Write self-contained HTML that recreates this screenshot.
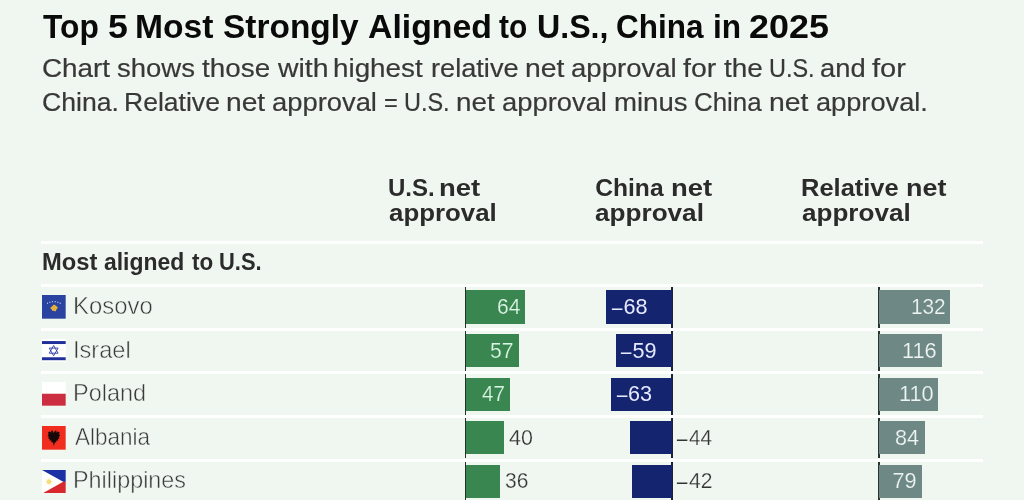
<!DOCTYPE html>
<html lang="en">
<head>
<meta charset="utf-8">
<title>Top 5 Most Strongly Aligned to U.S., China in 2025</title>
<style>
html,body{margin:0;padding:0;}
body{width:1024px;height:500px;overflow:hidden;background:#f0f7f0;font-family:"Liberation Sans",Arial,sans-serif;color:#333;position:relative;}
.ln{position:absolute;left:0;width:1024px;margin:0;white-space:nowrap;}
.ln span{position:absolute;top:0;white-space:nowrap;transform-origin:0 0;}
.t{font-size:33.6px;line-height:40px;height:40px;font-weight:bold;color:#0a0a0a;}
.s{font-size:26.7px;line-height:34px;height:34px;color:#383838;-webkit-text-stroke:0.2px #383838;}
.h{font-size:24.6px;line-height:26px;height:26px;font-weight:bold;color:#2b2b2b;}
.gp{font-size:23px;line-height:26px;height:26px;font-weight:bold;color:#2b2b2b;}
.nm{font-size:23.6px;line-height:30px;height:30px;color:#3a3a3a;-webkit-text-stroke:0.5px #f0f7f0;}
.v{font-size:21.6px;line-height:30px;height:30px;}
.hl{position:absolute;left:41px;width:942px;height:3px;background:#fff;}
.flag{position:absolute;left:42px;width:23.7px;height:23.7px;}
.ax{position:absolute;width:1.9px;height:40.6px;background:#26312e;}
.bar{position:absolute;height:33.2px;}
.vb{-webkit-text-stroke:0.25px #f0f7f0;}
.vg{-webkit-text-stroke:0.2px #3a8650;}
.vr{-webkit-text-stroke:0.2px #6e8985;}
.g{background:#3a8650;}
.n{background:#14246f;}
.r{background:#6e8985;}
.w{color:#ffffff;}
.vg{color:#dcf6e5;}
.vn{color:#e6e9ff;}
.vr{color:#eff5f3;}
.d{color:#333333;}
</style>
</head>
<body>
<h1 class="ln t" style="top:7.3px"><span style="left:42.63px;transform:scaleX(0.945)">Top</span> <span style="left:108.04px;transform:scaleX(1.0627)">5</span> <span style="left:134.95px;transform:scaleX(1.0007)">Most</span> <span style="left:223.25px;transform:scaleX(0.9963)">Strongly</span> <span style="left:367.74px;transform:scaleX(1.0063)">Aligned</span> <span style="left:499.05px;transform:scaleX(0.8917)">to</span> <span style="left:536.84px;transform:scaleX(0.9574)">U.S.,</span> <span style="left:616.09px;transform:scaleX(0.9375)">China</span> <span style="left:713.38px;transform:scaleX(0.9412)">in</span> <span style="left:748.66px;transform:scaleX(1.069)">2025</span></h1>
<p class="ln s" style="top:51.2px"><span style="left:41.7px;transform:scaleX(1.0431)">Chart</span> <span style="left:116.73px;transform:scaleX(1.0304)">shows</span> <span style="left:201.98px;transform:scaleX(1.0433)">those</span> <span style="left:277.5px;transform:scaleX(1.0656)">with</span> <span style="left:333.18px;transform:scaleX(1.0417)">highest</span> <span style="left:430.72px;transform:scaleX(1.0181)">relative</span> <span style="left:525.14px;transform:scaleX(1.0638)">net</span> <span style="left:571.21px;transform:scaleX(1.0327)">approval</span> <span style="left:683.22px;transform:scaleX(1.0661)">for</span> <span style="left:724.23px;transform:scaleX(1.0493)">the</span> <span style="left:769.49px;transform:scaleX(0.8789)">U.S.</span> <span style="left:819.97px;transform:scaleX(1.0241)">and</span> <span style="left:871.95px;transform:scaleX(1.0909)">for</span></p>
<p class="ln s" style="top:84.6px"><span style="left:41.75px;transform:scaleX(0.9966)">China.</span> <span style="left:124.01px;transform:scaleX(0.9946)">Relative</span> <span style="left:225.65px;transform:scaleX(1.0567)">net</span> <span style="left:272.47px;transform:scaleX(1.0252)">approval</span> <span style="left:384.39px;transform:scaleX(0.8846)">=</span> <span style="left:404.49px;transform:scaleX(0.8789)">U.S.</span> <span style="left:456.18px;transform:scaleX(1.0426)">net</span> <span style="left:502.47px;transform:scaleX(1.0252)">approval</span> <span style="left:613.69px;transform:scaleX(1.0328)">minus</span> <span style="left:694.29px;transform:scaleX(0.9708)">China</span> <span style="left:769.39px;transform:scaleX(1.0638)">net</span> <span style="left:815.73px;transform:scaleX(1.0189)">approval.</span></p>
<div class="ln h" style="top:175.0px"><span style="left:387.94px;transform:scaleX(0.9765)">U.S.</span> <span style="left:439.3px;transform:scaleX(1.1151)">net</span></div>
<div class="ln h" style="top:200.2px"><span style="left:388.51px;transform:scaleX(1.051)">approval</span></div>
<div class="ln h" style="top:175.0px"><span style="left:595.25px;transform:scaleX(1.0)">China</span> <span style="left:670.55px;transform:scaleX(1.1151)">net</span></div>
<div class="ln h" style="top:200.2px"><span style="left:595.45px;transform:scaleX(1.0625)">approval</span></div>
<div class="ln h" style="top:175.0px"><span style="left:801.19px;transform:scaleX(1.0354)">Relative</span> <span style="left:906.09px;transform:scaleX(1.0935)">net</span></div>
<div class="ln h" style="top:200.2px"><span style="left:801.71px;transform:scaleX(1.06)">approval</span></div>
<div class="hl" style="top:240.5px"></div>
<div class="ln gp" style="top:248.6px"><span style="left:41.75px;transform:scaleX(1.0327)">Most</span> <span style="left:103.75px;transform:scaleX(0.9968)">aligned</span> <span style="left:191.76px;transform:scaleX(0.9756)">to</span> <span style="left:219.07px;transform:scaleX(0.9518)">U.S.</span></div>
<div class="hl" style="top:284.1px"></div>
<div class="hl" style="top:327.7px"></div>
<div class="hl" style="top:371.3px"></div>
<div class="hl" style="top:414.9px"></div>
<div class="hl" style="top:458.5px"></div>
<!-- Kosovo -->
<svg class="flag" style="top:295.2px" viewBox="0 0 24 24"><rect width="24" height="24" fill="#2a43a0"/><path d="M12 9.500l1.500.8 2.700 2.400-1.200 1.500-1.300 2.500-1.900-.8-1.200.4-.8-1.700-1.600-1.500 1.900-1.500z" fill="#e3b23c"/><g fill="#d5dcf0"><circle cx="5.600" cy="8.300" r=".6"/><circle cx="8" cy="7.300" r=".6"/><circle cx="10.600" cy="6.800" r=".6"/><circle cx="13.400" cy="6.800" r=".6"/><circle cx="16" cy="7.300" r=".6"/><circle cx="18.400" cy="8.300" r=".6"/></g></svg>
<div class="ln nm" style="top:291.0px"><span style="left:73.17px;transform:scaleX(1.0139)">Kosovo</span></div>
<div class="ax" style="left:464.6px;top:287.1px;background:#1f3327"></div>
<div class="ax" style="left:671.4px;top:287.1px;background:#1d2238"></div>
<div class="ax" style="left:877.9px;top:287.1px;background:#2a3532"></div>
<div class="bar g" style="left:466.4px;top:290.4px;width:59px"></div>
<div class="bar n" style="left:606px;top:290.4px;width:66px"></div>
<div class="bar r" style="left:879.4px;top:290.4px;width:70.6px"></div>
<div class="ln v w vg" style="top:292.0px"><span style="left:497.02px;transform:scaleX(0.9778)">64</span></div>
<div class="ln v w vn" style="top:292.0px"><span style="left:612.3px;transform:scaleX(0.85);top:0.9px;-webkit-text-stroke:0.2px currentColor">–</span><span style="left:623.4px;transform:scaleX(1.0)">68</span></div>
<div class="ln v w vr" style="top:292.0px"><span style="left:911.32px;transform:scaleX(0.9624)">132</span></div>
<!-- Israel -->
<svg class="flag" style="top:338.8px" viewBox="0 0 24 24"><rect width="24" height="24" fill="#fff"/><rect y="2.1" width="24" height="3" fill="#1f2f9a"/><rect y="18.5" width="24" height="3" fill="#1f2f9a"/><path d="M11.8 6.6l4.5 7.8H7.3zM11.8 17l-4.5-7.8h9z" fill="none" stroke="#2b3ba5" stroke-width=".9"/></svg>
<div class="ln nm" style="top:334.6px"><span style="left:72.95px;transform:scaleX(1.0009)">Israel</span></div>
<div class="ax" style="left:464.6px;top:330.7px;background:#1f3327"></div>
<div class="ax" style="left:671.4px;top:330.7px;background:#1d2238"></div>
<div class="ax" style="left:877.9px;top:330.7px;background:#2a3532"></div>
<div class="bar g" style="left:466.4px;top:334.0px;width:52.2px"></div>
<div class="bar n" style="left:616px;top:334.0px;width:56px"></div>
<div class="bar r" style="left:879.4px;top:334.0px;width:62.2px"></div>
<div class="ln v w vg" style="top:335.6px"><span style="left:490.42px;transform:scaleX(0.9818)">57</span></div>
<div class="ln v w vn" style="top:335.6px"><span style="left:621.3px;transform:scaleX(0.85);top:1.4px;-webkit-text-stroke:0.2px currentColor">–</span><span style="left:632.4px;transform:scaleX(1.0)">59</span></div>
<div class="ln v w vr" style="top:335.6px"><span style="left:902.24px;transform:scaleX(1.0079)">116</span></div>
<!-- Poland -->
<svg class="flag" style="top:382.4px" viewBox="0 0 24 24"><rect width="24" height="12" fill="#fff"/><rect y="11.9" width="24" height="12.1" fill="#cd2d41"/></svg>
<div class="ln nm" style="top:378.2px"><span style="left:73.41px;transform:scaleX(0.9943)">Poland</span></div>
<div class="ax" style="left:464.6px;top:374.3px;background:#1f3327"></div>
<div class="ax" style="left:671.4px;top:374.3px;background:#1d2238"></div>
<div class="ax" style="left:877.9px;top:374.3px;background:#2a3532"></div>
<div class="bar g" style="left:466.4px;top:377.6px;width:43.6px"></div>
<div class="bar n" style="left:611px;top:377.6px;width:61px"></div>
<div class="bar r" style="left:879.4px;top:377.6px;width:58.6px"></div>
<div class="ln v w vg" style="top:379.2px"><span style="left:481.92px;transform:scaleX(0.9556)">47</span></div>
<div class="ln v w vn" style="top:379.2px"><span style="left:616.9px;transform:scaleX(0.85);top:0.4px;-webkit-text-stroke:0.2px currentColor">–</span><span style="left:628.0px;transform:scaleX(1.0)">63</span></div>
<div class="ln v w vr" style="top:379.2px"><span style="left:898.84px;transform:scaleX(1.0079)">110</span></div>
<!-- Albania -->
<svg class="flag" style="top:426.0px" viewBox="0 0 24 24"><rect width="24" height="24" fill="#f02d1e"/><path transform="translate(0 -.9) scale(1 1.12)" d="M12 7.2l-1.200-2-1.200-.4-.4 1.200.8 1-2.500-1.200L6 7l.8 1.200-1.200 1.300 1.400 1-.8 1.500 1.800.4-.6 1.600h2l.3 1.800 1.300-.4 1 3.400 1-3.400 1.300.4.3-1.800h2l-.6-1.600 1.800-.4-.8-1.500 1.400-1-1.200-1.300L18 7l-1.500-1.200L14 7l.8-1-.4-1.200-1.200.4z" fill="#160808"/></svg>
<div class="ln nm" style="top:421.8px"><span style="left:75.0px;transform:scaleX(0.9524)">Albania</span></div>
<div class="ax" style="left:464.6px;top:417.9px;background:#1f3327"></div>
<div class="ax" style="left:671.4px;top:417.9px;background:#1d2238"></div>
<div class="ax" style="left:877.9px;top:417.9px;background:#2a3532"></div>
<div class="bar g" style="left:466.4px;top:421.2px;width:37.2px"></div>
<div class="bar n" style="left:629.6px;top:421.2px;width:42.4px"></div>
<div class="bar r" style="left:879.4px;top:421.2px;width:45.6px"></div>
<div class="ln v d vb" style="top:422.8px"><span style="left:508.5px;transform:scaleX(0.9934)">40</span></div>
<div class="ln v d vb" style="top:422.8px"><span style="left:677.3px;transform:scaleX(0.85);top:1.4px;-webkit-text-stroke:0.2px currentColor">–</span><span style="left:688.92px;transform:scaleX(0.9565)">44</span></div>
<div class="ln v w vr" style="top:422.8px"><span style="left:895.0px;transform:scaleX(0.9956)">84</span></div>
<!-- Philippines -->
<svg class="flag" style="top:469.6px" viewBox="0 0 24 24"><rect width="24" height="12" fill="#1a30a4"/><rect y="12" width="24" height="12" fill="#d7282d"/><path d="M0 0l21.500 12L0 24z" fill="#fff"/><circle cx="7.1" cy="11.800" r="2.200" fill="#f4d650"/><g stroke="#f6e08a" stroke-width=".6"><path d="M7.1 8v7.600M3.300 11.800h7.600M4.400 9.100l5.400 5.400M9.800 9.100l-5.400 5.400"/></g></svg>
<div class="ln nm" style="top:465.4px"><span style="left:73.42px;transform:scaleX(0.9906)">Philippines</span></div>
<div class="ax" style="left:464.6px;top:461.5px;background:#1f3327"></div>
<div class="ax" style="left:671.4px;top:461.5px;background:#1d2238"></div>
<div class="ax" style="left:877.9px;top:461.5px;background:#2a3532"></div>
<div class="bar g" style="left:466.4px;top:464.8px;width:33.6px"></div>
<div class="bar n" style="left:631.6px;top:464.8px;width:40.4px"></div>
<div class="bar r" style="left:879.4px;top:464.8px;width:42.2px"></div>
<div class="ln v d vb" style="top:466.4px"><span style="left:504.67px;transform:scaleX(0.9708)">36</span></div>
<div class="ln v d vb" style="top:466.4px"><span style="left:677.3px;transform:scaleX(0.85);top:0.4px;-webkit-text-stroke:0.2px currentColor">–</span><span style="left:688.91px;transform:scaleX(0.9778)">42</span></div>
<div class="ln v w vr" style="top:466.4px"><span style="left:892.6px;transform:scaleX(1.0)">79</span></div>
</body>
</html>
